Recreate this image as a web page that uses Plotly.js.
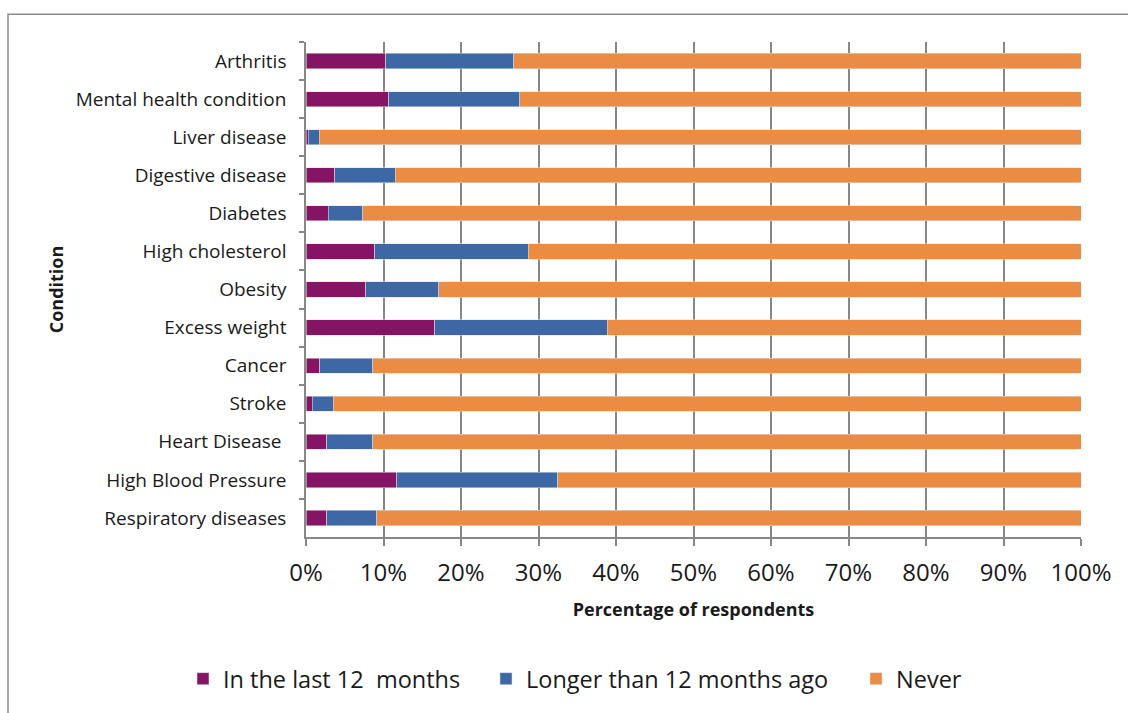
<!DOCTYPE html>
<html>
<head>
<meta charset="utf-8">
<script src="https://cdn.plot.ly/plotly-3.0.1.min.js"></script>
<style>
  html, body { margin: 0; padding: 0; background: #ffffff; }
  #chart { width: 1128px; height: 713px; }
</style>
</head>
<body>
<div id="chart"></div>
<script>
// Categories, top to bottom as shown
const conditions = [
  "Arthritis",
  "Mental health condition",
  "Liver disease",
  "Digestive disease",
  "Diabetes",
  "High cholesterol",
  "Obesity",
  "Excess weight",
  "Cancer",
  "Stroke",
  "Heart Disease ",
  "High Blood Pressure",
  "Respiratory diseases"
];

// Percentage of respondents
const lastTwelveMonths = [10.3, 10.7, 0.3, 3.7, 2.9, 8.9, 7.7, 16.6, 1.8, 0.8, 2.7, 11.7, 2.7];
const longerAgo        = [16.5, 16.9, 1.4, 7.8, 4.4, 19.8, 9.4, 22.3, 6.8, 2.7, 5.9, 20.8, 6.4];
const never            = [73.2, 72.4, 98.3, 88.5, 92.7, 71.3, 82.9, 61.1, 91.4, 96.5, 91.4, 67.5, 90.9];

const seriesNames = ["In the last 12\u00a0 months", "Longer than 12 months ago", "Never"];
const xTickVals = [0, 10, 20, 30, 40, 50, 60, 70, 80, 90, 100];
const xTickText = ["0%", "10%", "20%", "30%", "40%", "50%", "60%", "70%", "80%", "90%", "100%"];

const colors = ["#861464", "#3d67a5", "#ea8c43"];
const FONT = "Open Sans, Lato, sans-serif";
const gridGray = "#878787";

const L = 306, R = 1081, T = 42, B = 541;
const W = 1128, H = 713;
const pw = R - L, ph = B - T;

const legendIds = ["legend", "legend2", "legend3"];
const legendLeft = [183, 486, 856];

const seriesValues = [lastTwelveMonths, longerAgo, never];
const traces = seriesValues.map((vals, i) => ({
  type: "bar",
  orientation: "h",
  name: seriesNames[i],
  x: vals,
  y: conditions,
  legend: legendIds[i],
  marker: { color: colors[i], line: { color: "rgba(220,225,235,0.9)", width: 0.6 } },
  hoverinfo: "x+y+name"
}));

function legendSpec(px) {
  return {
    orientation: "h",
    x: (px - L) / pw,
    xanchor: "left",
    y: (B - 684) / ph,
    yanchor: "middle",
    bgcolor: "rgba(0,0,0,0)",
    font: { family: FONT, size: 23.5, color: "#1a1a1a" },
    itemclick: false
  };
}

const layout = {
  width: W,
  height: H,
  margin: { l: L, r: W - R, t: T, b: H - B, pad: 0 },
  paper_bgcolor: "#ffffff",
  plot_bgcolor: "#ffffff",
  barmode: "stack",
  bargap: 0.6,
  font: { family: FONT, color: "#1a1a1a" },
  showlegend: true,
  legend: legendSpec(legendLeft[0]),
  legend2: legendSpec(legendLeft[1]),
  legend3: legendSpec(legendLeft[2]),
  xaxis: {
    range: [0, 100],
    tickvals: xTickVals,
    ticktext: xTickText,
    tickfont: { family: FONT, size: 24, color: "#1a1a1a" },
    showgrid: true,
    gridcolor: gridGray,
    gridwidth: 1.5,
    zeroline: false,
    showline: true,
    linecolor: gridGray,
    linewidth: 1.5,
    ticks: "outside",
    ticklen: 7,
    tickcolor: gridGray,
    tickwidth: 1.5,
    ticklabelstandoff: 6,
    fixedrange: true,
    title: {
      text: "<b>Percentage of respondents</b>",
      font: { family: FONT, size: 18, color: "#1a1a1a" },
      standoff: 17
    },
    automargin: false
  },
  yaxis: {
    type: "category",
    autorange: "reversed",
    tickfont: { family: FONT, size: 19, color: "#1a1a1a" },
    showgrid: false,
    zeroline: false,
    showline: true,
    linecolor: gridGray,
    linewidth: 1.5,
    ticks: "outside",
    tickson: "boundaries",
    ticklen: 5,
    tickcolor: gridGray,
    tickwidth: 1.5,
    ticklabelstandoff: 14,
    fixedrange: true,
    title: {
      text: "<b>Condition</b>",
      font: { family: FONT, size: 18, color: "#1a1a1a" },
      standoff: 7
    },
    automargin: false
  },
  shapes: [{
    type: "rect",
    xref: "paper", yref: "paper",
    x0: (8 - L) / pw, x1: (1132 - L) / pw,
    y0: (B - 720) / ph, y1: (B - 14) / ph,
    line: { color: "#8a8a8a", width: 1.5 },
    fillcolor: "rgba(0,0,0,0)",
    layer: "below"
  }]
};

Plotly.newPlot("chart", traces, layout, { displayModeBar: false, staticPlot: false });
</script>
</body>
</html>
